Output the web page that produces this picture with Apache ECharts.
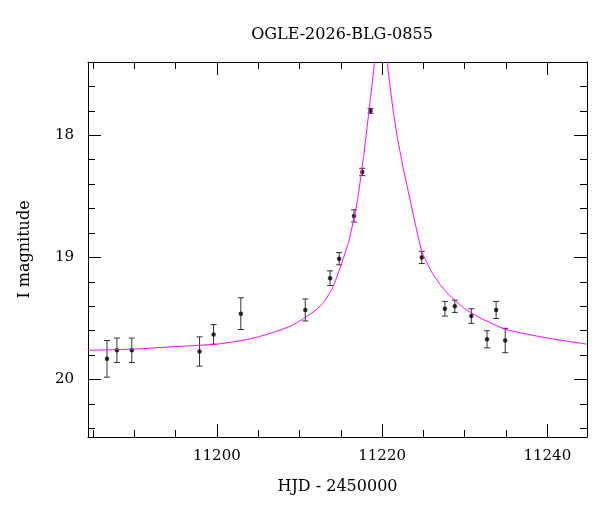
<!DOCTYPE html>
<html><head><meta charset="utf-8">
<script src="https://cdn.jsdelivr.net/npm/echarts@6/dist/echarts.min.js"></script>
<style>body{margin:0}#c{width:600px;height:512px}</style>
</head><body><div id="c"></div>
<script>
// observations: HJD-2450000, I mag, error
const obsX = [11186.7, 11187.9, 11189.7, 11197.9, 11199.6, 11202.9, 11210.7, 11213.7, 11214.8, 11216.6, 11217.6, 11218.6, 11224.8, 11227.6, 11228.8, 11230.8, 11232.7, 11233.8, 11234.9];
const obsY = [19.83, 19.76, 19.76, 19.77, 19.63, 19.46, 19.43, 19.17, 19.01, 18.66, 18.30, 17.80, 19.00, 19.42, 19.40, 19.48, 19.67, 19.43, 19.68];
const obsErr = [0.15, 0.10, 0.10, 0.12, 0.08, 0.13, 0.09, 0.06, 0.05, 0.05, 0.03, 0.02, 0.05, 0.06, 0.05, 0.06, 0.07, 0.07, 0.10];
// model curve
const modelX = [11184.4, 11190, 11195, 11200, 11203, 11205, 11207, 11209, 11210.5, 11212, 11213, 11214, 11215, 11216, 11217, 11217.8, 11218.5, 11219, 11219.6,
  11220.2, 11220.7, 11221.3, 11221.8, 11222.5, 11223.2, 11224, 11224.8, 11226, 11227, 11228, 11230, 11232, 11235, 11240, 11244.8];
const modelY = [19.76, 19.75, 19.73, 19.71, 19.68, 19.65, 19.61, 19.56, 19.50, 19.43, 19.36, 19.25, 19.07, 18.86, 18.54, 18.15, 17.75, 17.45, 17.0,
  17.0, 17.45, 17.78, 18.0, 18.25, 18.47, 18.72, 18.95, 19.12, 19.22, 19.30, 19.42, 19.50, 19.59, 19.66, 19.71];
const xMajor = [11200, 11220, 11240];
const xMinor = [11185, 11190, 11195, 11200, 11205, 11210, 11215, 11220, 11225, 11230, 11235, 11240];
const yMajor = [18, 19, 20];
const yMinor = [17.6, 17.8, 18, 18.2, 18.4, 18.6, 18.8, 19, 19.2, 19.4, 19.6, 19.8, 20, 20.2, 20.4];

const F = 'DejaVu Serif';
const xr = {min: 11184.4, max: 11244.8};
const yr = {min: 17.4, max: 20.47, inverse: true};
function xa(pos, major, labels) {
  return {type: 'value', position: pos, ...xr,
    axisLine: {show: major, onZero: false, lineStyle: {color: '#000'}},
    splitLine: {show: false},
    axisTick: {inside: true, length: major ? 13 : 7, customValues: major ? xMajor : xMinor, lineStyle: {color: '#000'}},
    axisLabel: {show: labels, customValues: xMajor, formatter: v => String(v), color: '#000', fontFamily: F, fontSize: 15, margin: 12}
  };
}
function ya(pos, major, labels) {
  return {type: 'value', position: pos, ...yr,
    axisLine: {show: major, onZero: false, lineStyle: {color: '#000'}},
    splitLine: {show: false},
    axisTick: {inside: true, length: major ? 13 : 7, customValues: major ? yMajor : yMinor, lineStyle: {color: '#000'}},
    axisLabel: {show: labels, customValues: yMajor, formatter: v => String(v), color: '#000', fontFamily: F, fontSize: 15, margin: 14}
  };
}
const xAxes = [xa('bottom', true, true), xa('bottom', false, false), xa('top', true, false), xa('top', false, false)];
xAxes[0].name = 'HJD - 2450000';
xAxes[0].nameLocation = 'middle';
xAxes[0].nameGap = 42;
xAxes[0].nameTextStyle = {color: '#000', fontFamily: F, fontSize: 16};
const yAxes = [ya('left', true, true), ya('left', false, false), ya('right', true, false), ya('right', false, false)];
yAxes[0].name = 'I magnitude';
yAxes[0].nameLocation = 'middle';
yAxes[0].nameGap = 55;
yAxes[0].nameTextStyle = {color: '#000', fontFamily: F, fontSize: 16};

const chart = echarts.init(document.getElementById('c'));
chart.setOption({
  animation: false,
  title: {text: 'OGLE-2026-BLG-0855', left: 337, top: 22, textAlign: 'center',
    textStyle: {fontFamily: F, fontSize: 16, fontWeight: 'normal', color: '#000'}},
  grid: {left: 88, right: 13, top: 62, bottom: 75},
  xAxis: xAxes,
  yAxis: yAxes,
  series: [
    {type: 'line', data: modelX.map((x, i) => [x, modelY[i]]), smooth: 0.15, showSymbol: false, clip: true,
      lineStyle: {color: '#ff00ff', width: 1}},
    {type: 'custom', clip: true,
      data: obsX.map((x, i) => [x, obsY[i], obsErr[i]]),
      renderItem: (p, api) => {
        const x = api.value(0), y = api.value(1), e = api.value(2);
        const a = api.coord([x, y - e]), b = api.coord([x, y + e]);
        const s = {stroke: '#333', lineWidth: 1};
        return {type: 'group', children: [
          {type: 'line', shape: {x1: a[0], y1: a[1], x2: b[0], y2: b[1]}, style: s},
          {type: 'line', shape: {x1: a[0] - 3, y1: a[1], x2: a[0] + 3, y2: a[1]}, style: s},
          {type: 'line', shape: {x1: b[0] - 3, y1: b[1], x2: b[0] + 3, y2: b[1]}, style: s}
        ]};
      }},
    {type: 'scatter', data: obsX.map((x, i) => [x, obsY[i]]), symbolSize: 4.5, itemStyle: {color: '#000'}}
  ]
});
</script></body></html>
